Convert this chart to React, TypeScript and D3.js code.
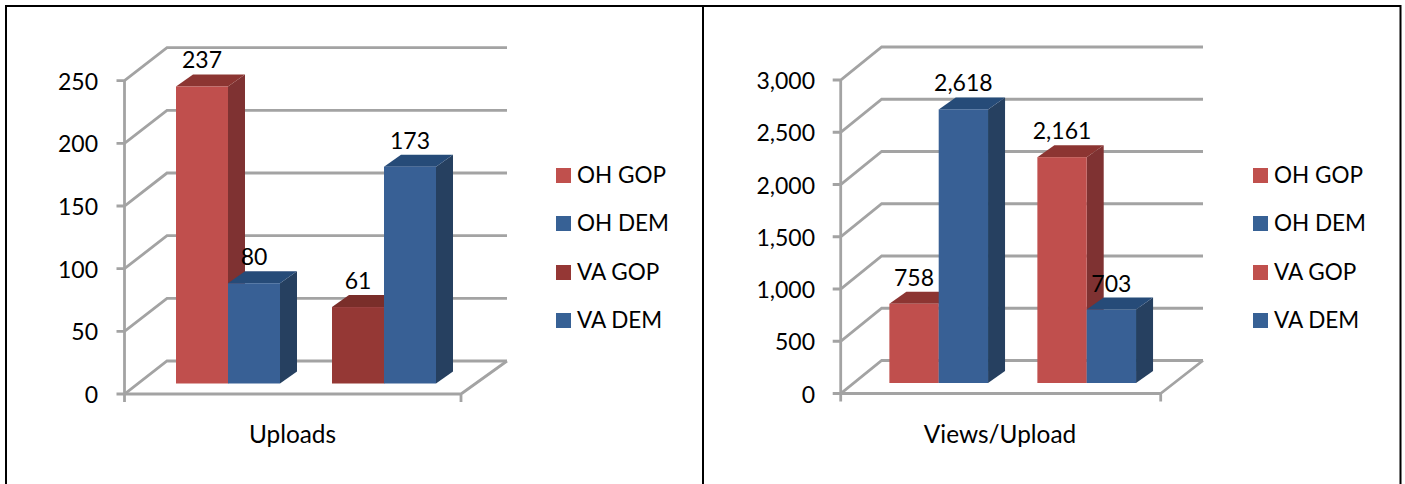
import React from "react";
import * as d3 from "d3";

const categories = ["OH", "VA"];
const seriesNames = ["OH GOP", "OH DEM", "VA GOP", "VA DEM"];
const uploadsValues = [237, 80, 61, 173];
const viewsValues = [758, 2618, 2161, 703];
const uploadsTicks = [0, 50, 100, 150, 200, 250];
const viewsTicks = [0, 500, 1000, 1500, 2000, 2500, 3000];
const RED = { front: "#C0504D", side: "#7F3230", top: "#8C3633" };
const DARK = { front: "#953735", side: "#772C2A", top: "#7A2D2B" };
const BLUE = { front: "#376195", side: "#254061", top: "#274B78" };
const uploadsColors = [RED, BLUE, DARK, BLUE];
const viewsColors = [RED, BLUE, RED, BLUE];
const FONT = "Lato, 'Open Sans', sans-serif";
const fmt = d3.format(",");

type Cfg = {
  values: number[]; ticks: number[]; colors: typeof uploadsColors; title: string;
  x0: number; xf: number; xb: number; xr: number; yTop: number; yZero: number;
  band: [number, number]; legendX: number; labelX: number; max: number; titleX: number;
};

function Chart({ cfg }: { cfg: Cfg }) {
  const { values, ticks, colors, x0, xf, xb, xr, yTop, yZero, band, max } = cfg;
  const y = d3.scaleLinear().domain([0, max]).range([yZero, yTop]);
  const depthY = 33;
  const base = yZero - 10.5;
  const barDx = 17, barDy = 12;
  const yBar = d3.scaleLinear().domain([0, max]).range([base, base - (yZero - yTop)]);
  const xGroup = d3.scaleBand<string>().domain(categories).range(band);
  const inner = d3.scaleBand<number>().domain([0, 1]).range([0, xGroup.bandwidth() * (2 / 3)]);
  const bars = values.map((v, i) => {
    const g = categories[Math.floor(i / 2)];
    const w = inner.bandwidth();
    const x = (xGroup(g) as number) + xGroup.bandwidth() / 6 + (inner(i % 2) as number);
    return { v, x, w, top: yBar(v), c: colors[i] };
  });
  const grid = "#A3A3A3";
  const legendYs = [175.5, 223.5, 272.5, 320.5];
  return (
    <g>
      <g stroke={grid} strokeWidth={2.8} fill="none" filter="url(#soft)">
        {ticks.map((t) => (
          <path key={t} d={`M${x0 - 8},${y(t)}H${x0}L${xb},${y(t) - depthY}H${xr}`} />
        ))}
        <path d={`M${x0},${yTop}V${yZero + 8}`} />
        <path d={`M${x0},${yZero}H${xf}V${yZero + 8}M${xf},${yZero}L${xr},${yZero - depthY}`} />
      </g>
      <g filter="url(#soft)">
        {bars.map((b, i) => (
          <g key={i}>
            <polygon fill={b.c.side} points={`${b.x + b.w},${base} ${b.x + b.w + barDx},${base - barDy} ${b.x + b.w + barDx},${b.top - barDy} ${b.x + b.w},${b.top}`} />
            <polygon fill={b.c.top} points={`${b.x},${b.top} ${b.x + barDx},${b.top - barDy} ${b.x + b.w + barDx},${b.top - barDy} ${b.x + b.w},${b.top}`} />
            <rect x={b.x} y={b.top} width={b.w} height={base - b.top} fill={b.c.front} />
          </g>
        ))}
      </g>
      <g fontFamily={FONT} fontSize={23} fill="#000">
        {ticks.map((t) => (
          <text key={t} x={cfg.labelX} y={y(t) + 9} textAnchor="end">{fmt(t)}</text>
        ))}
        {bars.map((b, i) => (
          <text key={i} x={b.x + b.w / 2} y={b.top - 18} textAnchor="middle">{fmt(b.v)}</text>
        ))}
        <text x={cfg.titleX} y={443} textAnchor="middle" fontSize={24.4}>{cfg.title}</text>
        {seriesNames.map((s, i) => (
          <g key={s}>
            <rect x={cfg.legendX} y={legendYs[i] - 7.5} width={15} height={15} fill={colors[i].front} />
            <text x={cfg.legendX + 21} y={legendYs[i] + 7} fontSize={22.5}>{s}</text>
          </g>
        ))}
      </g>
    </g>
  );
}

const left: Cfg = {
  values: uploadsValues, ticks: uploadsTicks, colors: uploadsColors, title: "Uploads",
  x0: 124.5, xf: 461, xb: 167, xr: 507, yTop: 80.7, yZero: 394, band: [150, 462],
  legendX: 556, labelX: 98, max: 250, titleX: 292.5,
};
const right: Cfg = {
  values: viewsValues, ticks: viewsTicks, colors: viewsColors, title: "Views/Upload",
  x0: 840.7, xf: 1160.7, xb: 881.7, xr: 1203, yTop: 80, yZero: 393.5, band: [864.7, 1160.7],
  legendX: 1253, labelX: 815, max: 3000, titleX: 1000,
};

export default function App() {
  return (
    <svg width={1405} height={484} style={{ position: "absolute", left: 0, top: 0, background: "#fff" }}>
      <defs>
        <filter id="soft" x="-5%" y="-5%" width="110%" height="110%">
          <feGaussianBlur stdDeviation={0.45} />
        </filter>
      </defs>
      <path d="M6,484V6H1400.5V484M703,6V484" fill="none" stroke="#000" strokeWidth={2} />
      <Chart cfg={left} />
      <Chart cfg={right} />
    </svg>
  );
}
